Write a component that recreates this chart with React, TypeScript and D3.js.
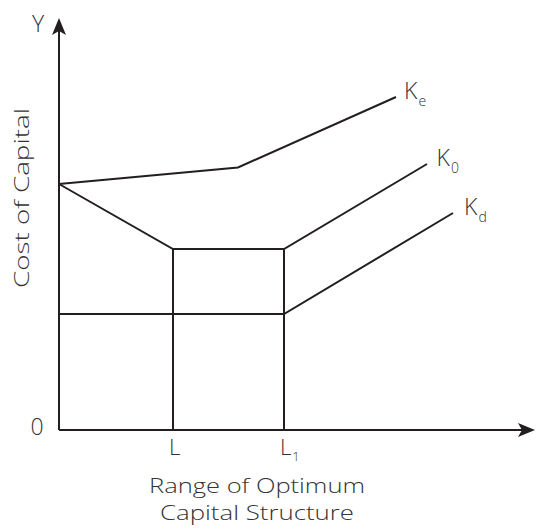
import React from "react";
import * as d3 from "d3";

// Abstract units: x = capital-structure position, y = cost of capital
const xTicks = [
  { label: "L", sub: "", x: 114 },
  { label: "L", sub: "1", x: 225 },
];
const keX = [0, 179, 337];
const keY = [246, 262.5, 333];
const k0X = [0, 114, 225, 368];
const k0Y = [246, 181, 181, 266];
const kdX = [0, 225, 394];
const kdY = [116, 116, 217];
const curveLabels = [
  { main: "K", sub: "e", series: "ke" },
  { main: "K", sub: "0", series: "k0" },
  { main: "K", sub: "d", series: "kd" },
];
const xTitle = ["Range of Optimum", "Capital Structure"];
const yTitle = "Cost of Capital";

const W = 537;
const H = 529;
const INK = "#231f20";
const TXT = "#333333";
const FONT = "'Open Sans', 'DejaVu Sans', sans-serif";

export default function App() {
  const x = d3.scaleLinear().domain([0, 476]).range([59, 535]);
  const y = d3.scaleLinear().domain([0, 412]).range([430, 18]);
  const line = d3
    .line<[number, number]>()
    .x((d) => x(d[0]))
    .y((d) => y(d[1]));

  const series: Record<string, [number, number][]> = {
    ke: keX.map((v, i) => [v, keY[i]] as [number, number]),
    k0: k0X.map((v, i) => [v, k0Y[i]] as [number, number]),
    kd: kdX.map((v, i) => [v, kdY[i]] as [number, number]),
  };

  const x0 = x(0);
  const y0 = y(0);
  const yTop = y(412);
  const xEnd = x(476);

  return (
    <svg
      width={W}
      height={H}
      style={{ position: "absolute", left: 0, top: 0, background: "#fff" }}
      fontFamily={FONT}
      fontWeight={300}
    >
      {/* axes */}
      <line x1={x0} y1={y0} x2={x0} y2={yTop + 6} stroke={INK} strokeWidth={2} />
      <line x1={x0} y1={y0} x2={xEnd - 6} y2={y0} stroke={INK} strokeWidth={2} />
      <path
        d={`M${x0},${yTop} L${x0 + 7},${yTop + 17} L${x0},${yTop + 13} L${x0 - 7},${yTop + 17} Z`}
        fill={INK}
      />
      <path
        d={`M${xEnd},${y0} L${xEnd - 17},${y0 - 7} L${xEnd - 13},${y0} L${xEnd - 17},${y0 + 7} Z`}
        fill={INK}
      />

      {/* vertical drop lines */}
      {xTicks.map((t, i) => (
        <line
          key={i}
          x1={x(t.x)}
          x2={x(t.x)}
          y1={y0}
          y2={y(k0Y[1])}
          stroke={INK}
          strokeWidth={2}
        />
      ))}

      {/* curves */}
      {Object.keys(series).map((k) => (
        <path key={k} d={line(series[k]) || ""} fill="none" stroke={INK} strokeWidth={2} />
      ))}

      {/* curve labels */}
      {curveLabels.map((c, i) => {
        const pts = series[c.series];
        const last = pts[pts.length - 1];
        const px = x(last[0]) + 8 + i * 1.5;
        const py = y(last[1]) + 2;
        return (
          <text key={c.series} x={px} y={py} fontSize={23} fill={TXT}>
            {c.main}
            <tspan fontSize={14} dy={7} dx={1}>
              {c.sub}
            </tspan>
          </text>
        );
      })}

      {/* tick labels */}
      {xTicks.map((t, i) => (
        <text key={i} x={x(t.x) - 4} y={y0 + 25} fontSize={22} fill={TXT}>
          {t.label}
          {t.sub && (
            <tspan fontSize={13} dy={6} dx={1}>
              {t.sub}
            </tspan>
          )}
        </text>
      ))}
      <text x={x0 - 22} y={y0 + 5} fontSize={23} fill={TXT} textAnchor="middle">
        0
      </text>
      <text x={x0 - 21} y={yTop + 14} fontSize={23} fill={TXT} textAnchor="middle">
        Y
      </text>

      {/* axis titles */}
      {xTitle.map((t, i) => (
        <text
          key={i}
          x={257}
          y={493 + i * 27}
          fontSize={20}
          fill={TXT}
          textAnchor="middle"
          textLength={i === 0 ? 216 : 194}
          lengthAdjust="spacingAndGlyphs"
        >
          {t}
        </text>
      ))}
      <text
        transform="translate(29,198) rotate(-90)"
        fontSize={21}
        fill={TXT}
        textAnchor="middle"
        textLength={180}
        lengthAdjust="spacingAndGlyphs"
      >
        {yTitle}
      </text>
    </svg>
  );
}
